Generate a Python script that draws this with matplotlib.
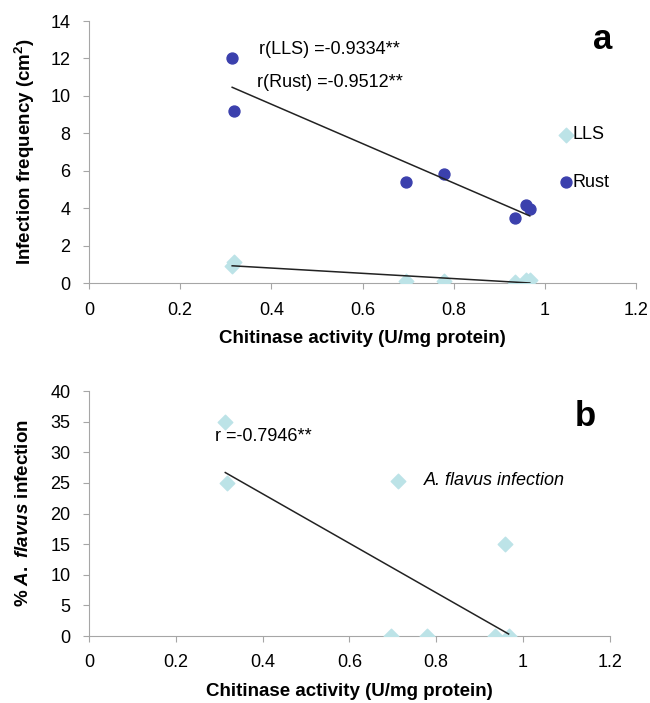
import matplotlib
matplotlib.use("Agg")
import matplotlib.pyplot as plt
import numpy as np

plt.rcParams['font.family'] = ['Liberation Sans', 'DejaVu Sans']
plt.rcParams['mathtext.fontset'] = 'custom'
plt.rcParams['mathtext.rm'] = 'Liberation Sans:bold'
plt.rcParams['mathtext.bf'] = 'Liberation Sans:bold'
plt.rcParams['mathtext.it'] = 'Liberation Sans:bold:italic'

# chitinase activity (U/mg protein)
chitinase = [0.314, 0.319, 0.696, 0.779, 0.935, 0.958, 0.967]
# infection frequency (cm2)
rust = [12.05, 9.17, 5.4, 5.85, 3.47, 4.17, 3.95]
lls = [0.9, 1.1, 0.1, 0.1, 0.05, 0.15, 0.15]
# % A. flavus infection
flavus = [35, 25, 0, 0, 0, 15, 0]
xticks = [0, 0.2, 0.4, 0.6, 0.8, 1, 1.2]
xticklabels = ["0", "0.2", "0.4", "0.6", "0.8", "1", "1.2"]

rust_col = "#3b40ad"
lls_col = "#bce3e7"
spine_col = "#a6a6a6"
fs = 13


def style_axes(ax):
    for s in ["top", "right"]:
        ax.spines[s].set_visible(False)
    for s in ["left", "bottom"]:
        ax.spines[s].set_color(spine_col)
    ax.tick_params(direction="out", color=spine_col, labelsize=fs, length=4.3, pad=9)
    ax.set_xlim(0, 1.2)
    ax.set_xticks(xticks)
    ax.set_xticklabels(xticklabels)


def trend(ax, x, y):
    x = np.array(x)
    k, b = np.polyfit(x, y, 1)
    xs = np.array([x.min(), x.max()])
    ax.plot(xs, k * xs + b, color="#222222", lw=1.1, zorder=4)


fig = plt.figure(figsize=(6.5, 7.03), dpi=100)

# panel a
ax1 = fig.add_axes([0.137, 0.5974, 0.8415, 0.3727])
style_axes(ax1)
ax1.set_ylim(0, 14)
ax1.set_yticks(range(0, 15, 2))
ax1.scatter(chitinase, lls, marker="D", s=55, color=lls_col, zorder=3, label="LLS")
ax1.scatter(chitinase, rust, marker="o", s=62, color=rust_col, zorder=3, label="Rust")
trend(ax1, chitinase, rust)
trend(ax1, chitinase, lls)
ax1.text(0.372, 12.5, "r(LLS) =-0.9334**", fontsize=fs, va="center")
ax1.text(0.369, 10.7, "r(Rust) =-0.9512**", fontsize=fs, va="center")
ax1.text(1.126, 13.0, "a", fontsize=25, fontweight="bold", ha="center", va="center")
ax1.legend(loc="center left", bbox_to_anchor=(0.855, 0.474), frameon=False,
           fontsize=fs, borderpad=0, borderaxespad=0, handlelength=1.0,
           handletextpad=-0.12, labelspacing=1.7)
ax1.set_xlabel("Chitinase activity (U/mg protein)", fontsize=13.5, fontweight="bold",
               labelpad=8)
ax1.set_ylabel("Infection frequency (cm$^\\mathbf{2}$)", fontsize=13.5, fontweight="bold",
               labelpad=10)

# panel b
ax2 = fig.add_axes([0.137, 0.0953, 0.801, 0.3485])
style_axes(ax2)
ax2.set_ylim(0, 40)
ax2.set_yticks(range(0, 41, 5))
ax2.scatter(chitinase, flavus, marker="D", s=55, color=lls_col, zorder=3,
            label="A. flavus infection")
trend(ax2, chitinase, flavus)
ax2.text(0.291, 32.5, "r =-0.7946**", fontsize=fs, va="center")
ax2.text(1.144, 35.9, "b", fontsize=25, fontweight="bold", ha="center", va="center")
leg = ax2.legend(loc="center left", bbox_to_anchor=(0.577, 0.633), frameon=False,
                 fontsize=fs, borderpad=0, borderaxespad=0, handlelength=1.0,
                 handletextpad=0.89)
for t in leg.get_texts():
    t.set_style("italic")
ax2.set_xlabel("Chitinase activity (U/mg protein)", fontsize=13.5, fontweight="bold",
               labelpad=8)
ax2.set_ylabel("% $\\it{A.\\ flavus}$ infection", fontsize=13.5, fontweight="bold",
               labelpad=13)

fig.savefig("out.png", dpi=100)
